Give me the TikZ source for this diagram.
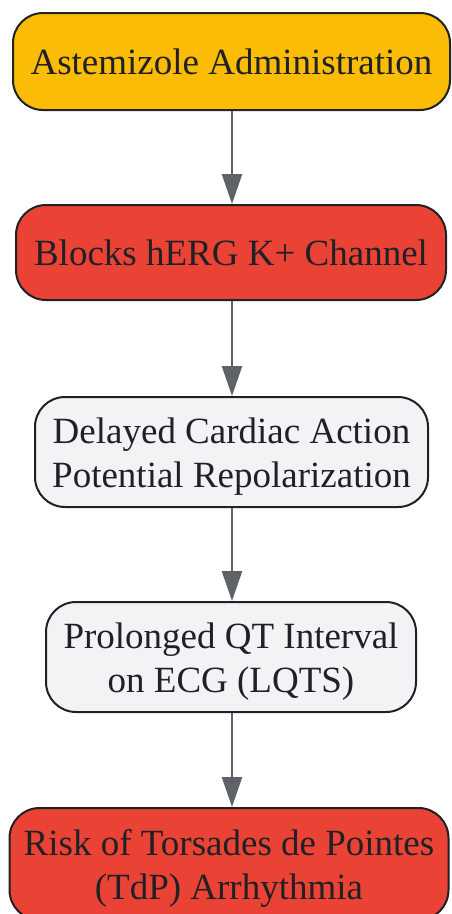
\documentclass[tikz,border=0pt]{standalone}
\usepackage{fontspec}
\setmainfont{Liberation Serif}
\usetikzlibrary{arrows.meta}
\definecolor{cyel}{HTML}{FBBC05}
\definecolor{cred}{HTML}{EA4335}
\definecolor{cgray}{HTML}{F1F3F4}
\definecolor{cline}{HTML}{202124}
\definecolor{carrow}{HTML}{5F6368}
\begin{document}
\begin{tikzpicture}[x=1pt,y=-1pt,
  box/.style={draw=cline, line width=2pt, rounded corners=30pt, align=center,
    font=\fontsize{37}{44}\selectfont, text=cline, inner sep=0pt,
    text height=26pt, text depth=0pt},
  twoline/.style={text height=70pt, text depth=0pt},
  conn/.style={draw=carrow, line width=2.5pt, -{Triangle[width=20pt,length=30pt]}}]
\useasboundingbox (0,0) rectangle (451,914);
\node[box, fill=cyel, minimum width=437pt, minimum height=97pt] (a) at (231.5,61.5) {Astemizole Administration};
\node[box, fill=cred, minimum width=430pt, minimum height=95pt] (b) at (231,252.5) {Blocks hERG K+ Channel};
\node[box, twoline, fill=cgray, minimum width=393pt, minimum height=110pt] (c) at (231.5,452) {Delayed Cardiac Action\\Potential Repolarization};
\node[box, twoline, fill=cgray, minimum width=370pt, minimum height=110pt] (d) at (231,657) {Prolonged QT Interval\\on ECG (LQTS)};
\node[box, twoline, fill=cred, minimum width=439pt, minimum height=112pt] (e) at (229,864) {Risk of Torsades de Pointes\\(TdP) Arrhythmia};
\draw[conn] (a.south -| 232,0) -- (b.north -| 232,0);
\draw[conn] (b.south -| 232,0) -- (c.north -| 232,0);
\draw[conn] (c.south -| 232,0) -- (d.north -| 232,0);
\draw[conn] (d.south -| 232,0) -- (e.north -| 232,0);
\end{tikzpicture}
\end{document}
